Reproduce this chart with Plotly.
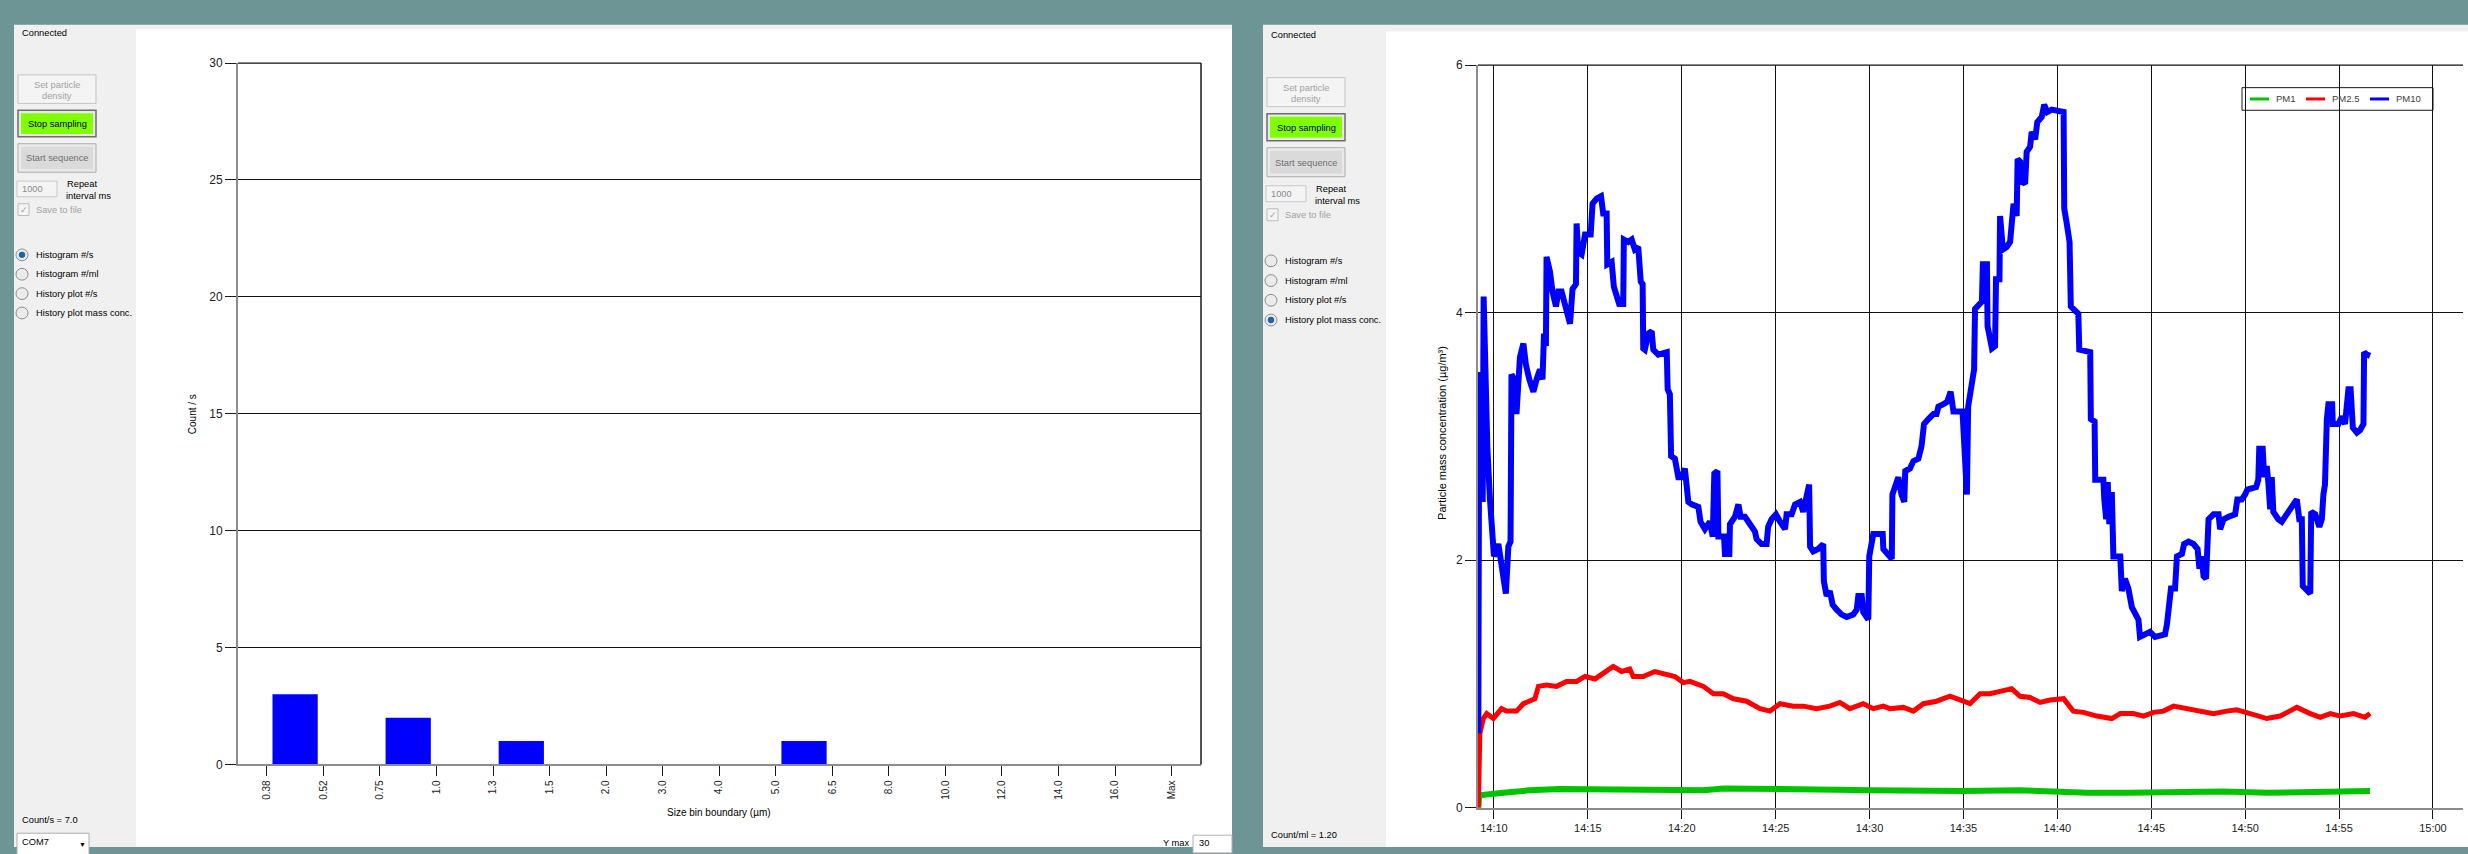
import plotly.graph_objects as go
import pandas as pd

W, H = 2468, 854
FONT = "Liberation Sans, Arial, sans-serif"
UI = 9.3  # size of the control-panel texts

# ---- Histogram: size bin boundaries (µm) and counts per second in each bin ----
bin_edges = ["0.38", "0.52", "0.75", "1.0", "1.3", "1.5", "2.0", "3.0", "4.0",
             "5.0", "6.5", "8.0", "10.0", "12.0", "14.0", "16.0", "Max"]
bin_counts = [3, 0, 2, 0, 1, 0, 0, 0, 0, 1, 0, 0, 0, 0, 0, 0]

# ---- History of particle mass concentration (µg/m³) ----
day = "2015-06-10"
pm10_readings = [
    ("14:09:10", 0.6), ("14:09:13", 3.52), ("14:09:20", 3.3), ("14:09:24", 2.47), ("14:09:27", 4.13),
    ("14:09:32", 3.54), ("14:09:39", 2.9), ("14:09:47", 2.5), ("14:09:53", 2.27), ("14:10:00", 2.03),
    ("14:10:14", 2.13), ("14:10:21", 1.99), ("14:10:30", 1.87), ("14:10:38", 1.73), ("14:10:46", 2.11),
    ("14:10:53", 2.15), ("14:10:56", 3.5), ("14:11:04", 3.46), ("14:11:12", 3.18), ("14:11:18", 3.38),
    ("14:11:23", 3.64), ("14:11:34", 3.75), ("14:11:42", 3.58), ("14:11:53", 3.46), ("14:12:06", 3.36),
    ("14:12:16", 3.46), ("14:12:27", 3.54), ("14:12:35", 3.46), ("14:12:40", 3.83), ("14:12:46", 3.73),
    ("14:12:48", 4.45), ("14:12:59", 4.33), ("14:13:07", 4.17), ("14:13:18", 4.05), ("14:13:26", 4.17),
    ("14:13:36", 4.17), ("14:13:47", 4.05), ("14:14:03", 3.91), ("14:14:11", 4.19), ("14:14:22", 4.23),
    ("14:14:24", 4.72), ("14:14:29", 4.49), ("14:14:40", 4.47), ("14:14:51", 4.63), ("14:15:09", 4.63),
    ("14:15:15", 4.88), ("14:15:28", 4.92), ("14:15:42", 4.94), ("14:15:49", 4.8), ("14:16:00", 4.8),
    ("14:16:02", 4.39), ("14:16:16", 4.41), ("14:16:23", 4.21), ("14:16:32", 4.13), ("14:16:40", 4.07),
    ("14:16:53", 4.07), ("14:16:55", 4.59), ("14:17:09", 4.57), ("14:17:20", 4.59), ("14:17:30", 4.51),
    ("14:17:41", 4.53), ("14:17:49", 4.25), ("14:17:55", 4.23), ("14:17:57", 3.71), ("14:18:02", 3.7),
    ("14:18:13", 3.83), ("14:18:24", 3.85), ("14:18:29", 3.7), ("14:18:45", 3.66), ("14:19:12", 3.68),
    ("14:19:15", 3.38), ("14:19:22", 3.34), ("14:19:26", 2.84), ("14:19:38", 2.82), ("14:19:49", 2.67),
    ("14:20:00", 2.67), ("14:20:10", 2.74), ("14:20:21", 2.47), ("14:20:32", 2.45), ("14:20:53", 2.43),
    ("14:21:00", 2.31), ("14:21:14", 2.25), ("14:21:30", 2.31), ("14:21:39", 2.19), ("14:21:44", 2.7),
    ("14:21:54", 2.72), ("14:21:57", 2.19), ("14:22:15", 2.19), ("14:22:18", 2.05), ("14:22:32", 2.05),
    ("14:22:34", 2.29), ("14:22:50", 2.35), ("14:23:01", 2.45), ("14:23:08", 2.35), ("14:23:22", 2.35),
    ("14:23:38", 2.29), ("14:23:54", 2.23), ("14:23:59", 2.17), ("14:24:15", 2.13), ("14:24:31", 2.13),
    ("14:24:36", 2.27), ("14:24:47", 2.33), ("14:25:01", 2.37), ("14:25:14", 2.31), ("14:25:30", 2.25),
    ("14:25:35", 2.37), ("14:25:51", 2.37), ("14:26:02", 2.45), ("14:26:18", 2.47), ("14:26:28", 2.39),
    ("14:26:37", 2.51), ("14:26:47", 2.61), ("14:26:50", 2.11), ("14:27:00", 2.07), ("14:27:16", 2.09),
    ("14:27:32", 2.13), ("14:27:34", 1.83), ("14:27:43", 1.71), ("14:27:53", 1.75), ("14:28:02", 1.64),
    ("14:28:15", 1.6), ("14:28:31", 1.56), ("14:28:47", 1.54), ("14:29:08", 1.56), ("14:29:19", 1.6),
    ("14:29:24", 1.71), ("14:29:35", 1.71), ("14:29:40", 1.58), ("14:29:56", 1.52), ("14:29:59", 2.03),
    ("14:30:12", 2.21), ("14:30:42", 2.21), ("14:30:44", 2.09), ("14:31:00", 2.05), ("14:31:11", 2.01),
    ("14:31:13", 2.53), ("14:31:21", 2.59), ("14:31:32", 2.67), ("14:31:42", 2.53), ("14:31:51", 2.47),
    ("14:31:54", 2.72), ("14:32:09", 2.74), ("14:32:20", 2.8), ("14:32:36", 2.82), ("14:32:46", 2.92),
    ("14:32:54", 3.1), ("14:33:08", 3.14), ("14:33:24", 3.18), ("14:33:34", 3.18), ("14:33:40", 3.24),
    ("14:33:56", 3.26), ("14:34:08", 3.28), ("14:34:19", 3.36), ("14:34:28", 3.2), ("14:34:57", 3.2),
    ("14:35:05", 2.7), ("14:35:11", 2.53), ("14:35:15", 3.24), ("14:35:27", 3.4), ("14:35:34", 3.54),
    ("14:35:37", 4.03), ("14:35:48", 4.07), ("14:35:59", 4.09), ("14:36:02", 4.39), ("14:36:15", 4.39),
    ("14:36:17", 3.89), ("14:36:23", 3.81), ("14:36:31", 3.71), ("14:36:41", 3.73), ("14:36:44", 4.27),
    ("14:36:55", 4.27), ("14:36:57", 4.78), ("14:37:06", 4.51), ("14:37:18", 4.53), ("14:37:29", 4.57),
    ("14:37:34", 4.72), ("14:37:40", 4.88), ("14:37:50", 4.78), ("14:37:53", 5.24), ("14:38:01", 5.22),
    ("14:38:06", 5.06), ("14:38:17", 5.04), ("14:38:22", 5.3), ("14:38:33", 5.34), ("14:38:38", 5.46),
    ("14:38:49", 5.4), ("14:38:56", 5.54), ("14:39:10", 5.58), ("14:39:18", 5.68), ("14:39:28", 5.62),
    ("14:39:42", 5.64), ("14:40:20", 5.62), ("14:40:22", 4.84), ("14:40:30", 4.72), ("14:40:39", 4.57),
    ("14:40:43", 4.05), ("14:40:57", 4.01), ("14:41:07", 3.99), ("14:41:10", 3.7), ("14:41:45", 3.68),
    ("14:41:47", 3.14), ("14:41:59", 3.12), ("14:42:01", 2.65), ("14:42:27", 2.65), ("14:42:30", 2.49),
    ("14:42:36", 2.33), ("14:42:41", 2.63), ("14:42:46", 2.29), ("14:42:54", 2.55), ("14:42:59", 2.03),
    ("14:43:21", 2.03), ("14:43:26", 1.75), ("14:43:36", 1.85), ("14:43:47", 1.77), ("14:43:58", 1.62),
    ("14:44:08", 1.58), ("14:44:19", 1.52), ("14:44:24", 1.38), ("14:44:40", 1.4), ("14:44:56", 1.42),
    ("14:45:12", 1.38), ("14:45:44", 1.4), ("14:45:50", 1.48), ("14:45:58", 1.62), ("14:46:03", 1.77),
    ("14:46:16", 1.77), ("14:46:22", 2.03), ("14:46:38", 2.05), ("14:46:45", 2.13), ("14:46:59", 2.15),
    ("14:47:15", 2.13), ("14:47:28", 2.09), ("14:47:34", 1.93), ("14:47:41", 2.03), ("14:47:47", 1.87),
    ("14:47:55", 1.85), ("14:47:57", 2.11), ("14:48:03", 2.33), ("14:48:19", 2.37), ("14:48:35", 2.37),
    ("14:48:40", 2.25), ("14:48:51", 2.33), ("14:49:07", 2.35), ("14:49:28", 2.37), ("14:49:35", 2.49),
    ("14:49:49", 2.49), ("14:50:00", 2.53), ("14:50:07", 2.57), ("14:50:35", 2.59), ("14:50:42", 2.65),
    ("14:50:45", 2.9), ("14:50:56", 2.9), ("14:51:01", 2.67), ("14:51:09", 2.76), ("14:51:14", 2.63),
    ("14:51:20", 2.41), ("14:51:25", 2.67), ("14:51:30", 2.39), ("14:51:46", 2.33), ("14:51:57", 2.31),
    ("14:52:18", 2.39), ("14:52:34", 2.45), ("14:52:45", 2.49), ("14:52:53", 2.33), ("14:53:01", 2.33),
    ("14:53:04", 1.79), ("14:53:17", 1.75), ("14:53:28", 1.73), ("14:53:31", 2.39), ("14:53:44", 2.37),
    ("14:53:57", 2.27), ("14:54:05", 2.33), ("14:54:10", 2.53), ("14:54:15", 2.61), ("14:54:21", 3.14),
    ("14:54:26", 3.26), ("14:54:38", 3.26), ("14:54:40", 3.1), ("14:54:58", 3.1), ("14:55:09", 3.16),
    ("14:55:19", 3.1), ("14:55:30", 3.38), ("14:55:37", 3.38), ("14:55:44", 3.07), ("14:55:57", 3.03),
    ("14:56:07", 3.05), ("14:56:18", 3.1), ("14:56:20", 3.68), ("14:56:29", 3.66), ("14:56:39", 3.65),
]
pm25_readings = [
    ("14:09:10", 0.0), ("14:09:11", 0.3), ("14:09:13", 0.45), ("14:09:15", 0.6), ("14:09:26", 0.72),
    ("14:09:37", 0.76), ("14:09:58", 0.72), ("14:10:09", 0.75), ("14:10:24", 0.8), ("14:10:40", 0.78),
    ("14:11:12", 0.78), ("14:11:34", 0.84), ("14:11:50", 0.86), ("14:12:11", 0.88), ("14:12:22", 0.98),
    ("14:12:48", 0.99), ("14:13:20", 0.98), ("14:13:52", 1.02), ("14:14:24", 1.02), ("14:14:51", 1.06),
    ("14:15:23", 1.04), ("14:15:49", 1.08), ("14:16:21", 1.14), ("14:16:48", 1.1), ("14:17:14", 1.12),
    ("14:17:25", 1.06), ("14:17:57", 1.06), ("14:18:34", 1.1), ("14:19:12", 1.08), ("14:19:38", 1.06),
    ("14:20:05", 1.01), ("14:20:26", 1.02), ("14:21:09", 0.98), ("14:21:41", 0.92), ("14:22:13", 0.92),
    ("14:22:45", 0.88), ("14:23:27", 0.86), ("14:24:10", 0.8), ("14:24:42", 0.78), ("14:25:14", 0.84),
    ("14:25:56", 0.82), ("14:26:28", 0.82), ("14:27:11", 0.8), ("14:27:53", 0.82), ("14:28:25", 0.85),
    ("14:28:57", 0.8), ("14:29:40", 0.84), ("14:30:12", 0.8), ("14:30:44", 0.82), ("14:31:05", 0.8),
    ("14:31:48", 0.81), ("14:32:20", 0.78), ("14:32:52", 0.84), ("14:33:34", 0.86), ("14:34:17", 0.9),
    ("14:34:59", 0.86), ("14:35:21", 0.84), ("14:35:53", 0.92), ("14:36:25", 0.92), ("14:36:57", 0.94),
    ("14:37:34", 0.96), ("14:38:01", 0.9), ("14:38:33", 0.89), ("14:39:05", 0.85), ("14:39:37", 0.87),
    ("14:40:20", 0.88), ("14:40:51", 0.78), ("14:41:23", 0.77), ("14:42:06", 0.74), ("14:42:54", 0.72),
    ("14:43:21", 0.76), ("14:44:03", 0.76), ("14:44:35", 0.74), ("14:45:07", 0.77), ("14:45:39", 0.78),
    ("14:46:11", 0.82), ("14:46:54", 0.8), ("14:47:36", 0.78), ("14:48:19", 0.76), ("14:49:01", 0.78),
    ("14:49:33", 0.79), ("14:50:16", 0.76), ("14:51:09", 0.72), ("14:51:52", 0.74), ("14:52:45", 0.81),
    ("14:53:28", 0.76), ("14:54:00", 0.73), ("14:54:32", 0.76), ("14:55:04", 0.74), ("14:55:46", 0.76),
    ("14:56:23", 0.73), ("14:56:39", 0.76),
]
pm1_readings = [
    ("14:09:10", 0.0), ("14:09:13", 0.1), ("14:10:30", 0.12), ("14:11:53", 0.14), ("14:13:30", 0.15),
    ("14:15:49", 0.15), ("14:17:41", 0.14), ("14:21:09", 0.14), ("14:22:13", 0.155), ("14:26:28", 0.155),
    ("14:28:15", 0.145), ("14:29:59", 0.14), ("14:33:08", 0.13), ("14:34:59", 0.135), ("14:38:01", 0.14),
    ("14:41:34", 0.12), ("14:43:47", 0.12), ("14:48:51", 0.13), ("14:51:09", 0.12), ("14:56:39", 0.135),
]

series_names = ["PM1", "PM2.5", "PM10"]
series_colors = ["#00c400", "#ff0000", "#0000ff"]
series_widths = [6, 5, 6]

TEAL = "#6d9596"
PANEL = "#f0f0f0"


def X(px):
    return px / W


def Y(py):
    return 1 - py / H


shapes = []
annotations = []


def rect(x0, y0, x1, y1, fill, line=None, lw=1):
    shapes.append(dict(type="rect", xref="paper", yref="paper", layer="below",
                       x0=X(x0), x1=X(x1), y0=Y(y1), y1=Y(y0), fillcolor=fill,
                       line=dict(color=line or fill, width=lw if line else 0)))


def circle(cx, cy, r, fill, line=None, lw=1):
    shapes.append(dict(type="circle", xref="paper", yref="paper", layer="below",
                       x0=X(cx - r), x1=X(cx + r), y0=Y(cy + r), y1=Y(cy - r), fillcolor=fill,
                       line=dict(color=line or fill, width=lw if line else 0)))


def hline(x0, x1, y, color, width):
    shapes.append(dict(type="line", xref="paper", yref="paper", layer="above",
                       x0=X(x0), x1=X(x1), y0=Y(y), y1=Y(y), line=dict(color=color, width=width)))


def text(x, y, s, color="#000000", size=UI, anchor="left", angle=0):
    annotations.append(dict(xref="paper", yref="paper", x=X(x), y=Y(y), text=s, showarrow=False,
                            xanchor=anchor, yanchor="middle", textangle=angle,
                            font=dict(family=FONT, size=size, color=color)))


# ---- window backgrounds ----
rect(14, 18, 1232, 854, PANEL)
rect(136, 23, 1232, 854, "#ffffff")
rect(1263, 18, W, 854, PANEL)
rect(1386, 25, W, 854, "#ffffff")


def sidebar(dx, selected, count_label, count_y):
    def dy(y):
        return y + (0 if dx == 0 else 2 + (y - 26) * 0.018)

    text(20 + dx, dy(26), "Connected")
    # Set particle density (disabled)
    rect(18 + dx, dy(69), 96 + dx, dy(98), "#f4f4f4", "#c4c4c4")
    text(57 + dx, dy(79), "Set particle", "#a2a2a2", anchor="center")
    text(57 + dx, dy(90), "density", "#a2a2a2", anchor="center")
    # Stop sampling
    rect(18 + dx, dy(105), 96 + dx, dy(132), "#e8e8e8", "#6e6e6e", 1.5)
    rect(21 + dx, dy(108), 93 + dx, dy(129), "#80ff00")
    text(57 + dx, dy(119), "Stop sampling", "#000000", anchor="center")
    # Start sequence
    rect(18 + dx, dy(139), 96 + dx, dy(168), "#eaeaea", "#adadad")
    rect(21 + dx, dy(142), 93 + dx, dy(165), "#dadada")
    text(57 + dx, dy(154), "Start sequence", "#6e6e6e", anchor="center")
    # repeat interval
    rect(17 + dx, dy(177), 57 + dx, dy(193), "#f4f4f4", "#c8c8c8")
    text(20 + dx, dy(185), "1000", "#8a8a8a")
    text(65 + dx, dy(180), "Repeat")
    text(64 + dx, dy(192), "interval ms")
    # save to file
    rect(18 + dx, dy(200), 29 + dx, dy(212), "#f4f4f4", "#bcbcbc")
    text(23.5 + dx, dy(206), "✓", "#a0a0a0", size=9, anchor="center")
    text(34 + dx, dy(206), "Save to file", "#a2a2a2")
    # display mode radio buttons
    labels = ["Histogram #/s", "Histogram #/ml", "History plot #/s", "History plot mass conc."]
    for i, lab in enumerate(labels):
        cy = dy(252 + i * 19.7)
        circle(22 + dx, cy, 6, "#ebebeb", "#8e8e8e")
        if i == selected:
            circle(22 + dx, cy, 3.2, "#1f63a8")
        text(34 + dx, cy, lab)
    text(20 + dx, count_y, count_label)


sidebar(0, 0, "Count/s = 7.0", 827)
sidebar(1249, 3, "Count/ml = 1.20", 842)

# COM port selector and Y max box
rect(17, 840, 89, 862, "#ffffff", "#acacac")
text(20, 849, "COM7")
text(82, 851, "▼", size=7, anchor="center")
text(1176, 850, "Y max", anchor="center")
rect(1193, 842, 1232, 860, "#ffffff", "#b0b0b0")
text(1197, 850, "30")

# axis titles
text(192, 414, "Count / s", size=10, anchor="center", angle=-90)
text(719, 819, "Size bin boundary (µm)", size=10, anchor="center")
text(1442, 433, "Particle mass concentration (µg/m³)", size=11, anchor="center", angle=-90)

# legend of the history plot
rect(2242, 82, 2433, 105, "#ffffff", "#1a1a1a")
legend_pos = [(2250, 2274), (2306, 2330), (2370, 2394)]
for (lx, tx), name, col in zip(legend_pos, series_names, series_colors):
    hline(lx, lx + 19, 93.5, col, 3)
    text(tx, 93.5, name, "#404040", size=9.5)

GRID = "#111111"
AXIS = "#8c8c8c"

# frame lines: top edge of both plots and right edge of the histogram
for xr, yr in [("x", "y"), ("x2", "y2")]:
    shapes.append(dict(type="line", xref=f"{xr} domain", yref=f"{yr} domain", x0=0, x1=1, y0=1, y1=1,
                       line=dict(color=GRID, width=1.2), layer="below"))
shapes.append(dict(type="line", xref="x domain", yref="y domain", x0=1, x1=1, y0=0, y1=1,
                   line=dict(color="#1a1a1a", width=1.5), layer="above"))

# ---- figure ----
fig = go.Figure()

fig.add_trace(go.Bar(x=[i + 0.5 for i in range(len(bin_counts))], y=bin_counts, width=0.8,
                     marker=dict(color="#0000ff", line=dict(width=0)), xaxis="x", yaxis="y"))

for name, col, lw, readings in zip(series_names, series_colors, series_widths,
                                   [pm1_readings, pm25_readings, pm10_readings]):
    t = pd.to_datetime([f"{day} {hms}" for hms, _ in readings])
    v = [val for _, val in readings]
    fig.add_trace(go.Scatter(x=t, y=v, mode="lines", name=name,
                             line=dict(color=col, width=lw), xaxis="x2", yaxis="y2"))

tickfont = dict(family=FONT, size=11, color="#222222")

fig.update_layout(
    width=W, height=H,
    margin=dict(l=0, r=0, t=0, b=0),
    paper_bgcolor=TEAL, plot_bgcolor="#ffffff",
    showlegend=False,
    shapes=shapes, annotations=annotations,
    xaxis=dict(domain=[X(238), X(1201)], range=[-0.51, 16.52],
               tickmode="array", tickvals=list(range(len(bin_edges))), ticktext=bin_edges,
               tickangle=-90, ticks="outside", ticklen=10, tickcolor="#1a1a1a",
               showgrid=False, zeroline=False, showline=True, linecolor=AXIS, linewidth=2,
               tickfont=dict(family=FONT, size=10, color="#222222"), fixedrange=True),
    yaxis=dict(domain=[Y(770), Y(57)], range=[0, 30], dtick=5, anchor="x",
               ticks="outside", ticklen=11, tickcolor="#1a1a1a",
               showgrid=True, gridcolor=GRID, gridwidth=1, zeroline=False,
               showline=True, linecolor=AXIS, linewidth=2, tickfont=dict(family=FONT, size=12, color="#222222")),
    xaxis2=dict(domain=[X(1478), X(2463)], anchor="y2", type="date",
                range=[f"{day} 14:09:09", f"{day} 15:01:36"],
                tickformat="%H:%M", dtick=300000, tick0=f"{day} 14:10:00",
                ticks="outside", ticklen=9, tickcolor="#1a1a1a",
                showgrid=True, gridcolor=GRID, gridwidth=1, zeroline=False,
                showline=True, linecolor=AXIS, linewidth=2, tickfont=tickfont),
    yaxis2=dict(domain=[Y(814), Y(59)], anchor="x2", range=[0, 6], dtick=2,
                ticks="outside", ticklen=11, tickcolor="#1a1a1a",
                showgrid=True, gridcolor=GRID, gridwidth=1, zeroline=False,
                showline=True, linecolor=AXIS, linewidth=2, tickfont=dict(family=FONT, size=12, color="#222222")),
)

fig.write_html("out.html")
